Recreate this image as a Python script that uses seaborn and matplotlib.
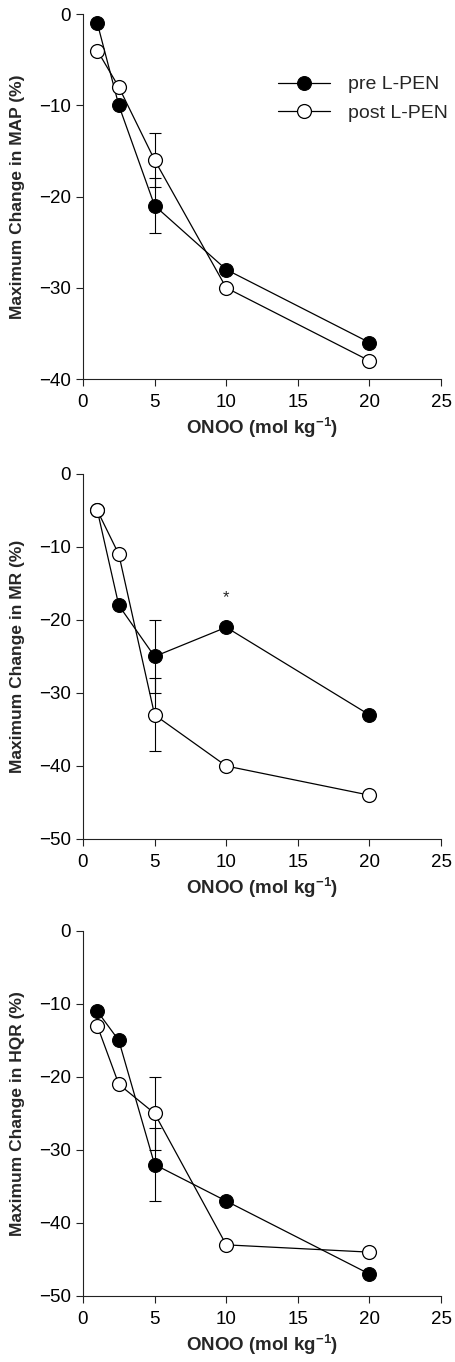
import matplotlib
matplotlib.use("Agg")
import matplotlib.pyplot as plt
import seaborn as sns
import pandas as pd

# dose of ONOO (mol kg-1)
doses = [1, 2.5, 5, 10, 20]

# maximum change (%) per panel
map_pre = [-1, -10, -21, -28, -36]
map_post = [-4, -8, -16, -30, -38]
mr_pre = [-5, -18, -25, -21, -33]
mr_post = [-5, -11, -33, -40, -44]
hqr_pre = [-11, -15, -32, -37, -47]
hqr_post = [-13, -21, -25, -43, -44]

# error bars only shown at dose 5
err_dose = 5
map_err = [3, 3]
mr_err = [5, 5]
hqr_err = [5, 5]

panels = [
    ("Maximum Change in MAP (%)", map_pre, map_post, map_err, -40, [0, -10, -20, -30, -40]),
    ("Maximum Change in MR (%)", mr_pre, mr_post, mr_err, -50, [0, -10, -20, -30, -40, -50]),
    ("Maximum Change in HQR (%)", hqr_pre, hqr_post, hqr_err, -50, [0, -10, -20, -30, -40, -50]),
]

sns.set_style("ticks")
plt.rcParams['font.family'] = ['Liberation Sans', 'DejaVu Sans']
plt.rcParams['mathtext.fontset'] = 'custom'
plt.rcParams['mathtext.bf'] = 'Liberation Sans:bold'

fig = plt.figure(figsize=(4.55, 13.62), dpi=100)
bottoms = [0.7217, 0.384, 0.0485]
axcol = "#222222"

for i, (ylab, pre, post, err, ymin, yticks) in enumerate(panels):
    ax = fig.add_axes([0.1824, bottoms[i], 0.787, 0.268])
    df = pd.DataFrame({
        "dose": doses * 2,
        "change": pre + post,
        "group": ["pre L-PEN"] * len(doses) + ["post L-PEN"] * len(doses),
    })
    k = doses.index(err_dose)
    ax.errorbar([err_dose, err_dose], [pre[k], post[k]], yerr=err, fmt="none",
                ecolor="black", elinewidth=0.8, capsize=4, capthick=0.8, zorder=1)
    sns.lineplot(data=df[df.group == "pre L-PEN"], x="dose", y="change", ax=ax,
                 color="black", lw=0.9, marker="o", markersize=10,
                 markerfacecolor="black", markeredgecolor="black", sort=False,
                 label="pre L-PEN", zorder=2)
    sns.lineplot(data=df[df.group == "post L-PEN"], x="dose", y="change", ax=ax,
                 color="black", lw=0.9, marker="o", markersize=10,
                 markerfacecolor="white", markeredgecolor="black", markeredgewidth=0.9,
                 sort=False, label="post L-PEN", zorder=3)

    ax.set_xlim(0, 25)
    ax.set_ylim(ymin, 0)
    ax.set_xticks([0, 5, 10, 15, 20, 25])
    ax.set_yticks(yticks)
    ax.set_xlabel(r"ONOO (mol kg$^{\mathbf{-1}}$)", fontsize=13.5, fontweight="bold", labelpad=3)
    ax.set_ylabel(ylab, fontsize=12.5, fontweight="bold", labelpad=10)
    ax.tick_params(axis="both", labelsize=13.5, length=5, width=0.8, direction="out",
                   color=axcol, labelcolor="black")
    ax.tick_params(axis="x", pad=6)
    for s in ["left", "bottom"]:
        ax.spines[s].set_linewidth(0.8)
        ax.spines[s].set_color(axcol)
    sns.despine(ax=ax)
    for line in ax.lines:
        line.set_clip_on(False)

    if i == 0:
        ax.legend(loc="upper left", bbox_to_anchor=(0.522, 0.852), frameon=False,
                  fontsize=14, handlelength=2.7, labelspacing=0.55, handletextpad=0.9,
                  borderaxespad=0)
    else:
        ax.get_legend().remove()
    if i == 1:
        ax.text(10, -17, "*", ha="center", va="center", fontsize=12)

fig.savefig("out.png", dpi=100)
